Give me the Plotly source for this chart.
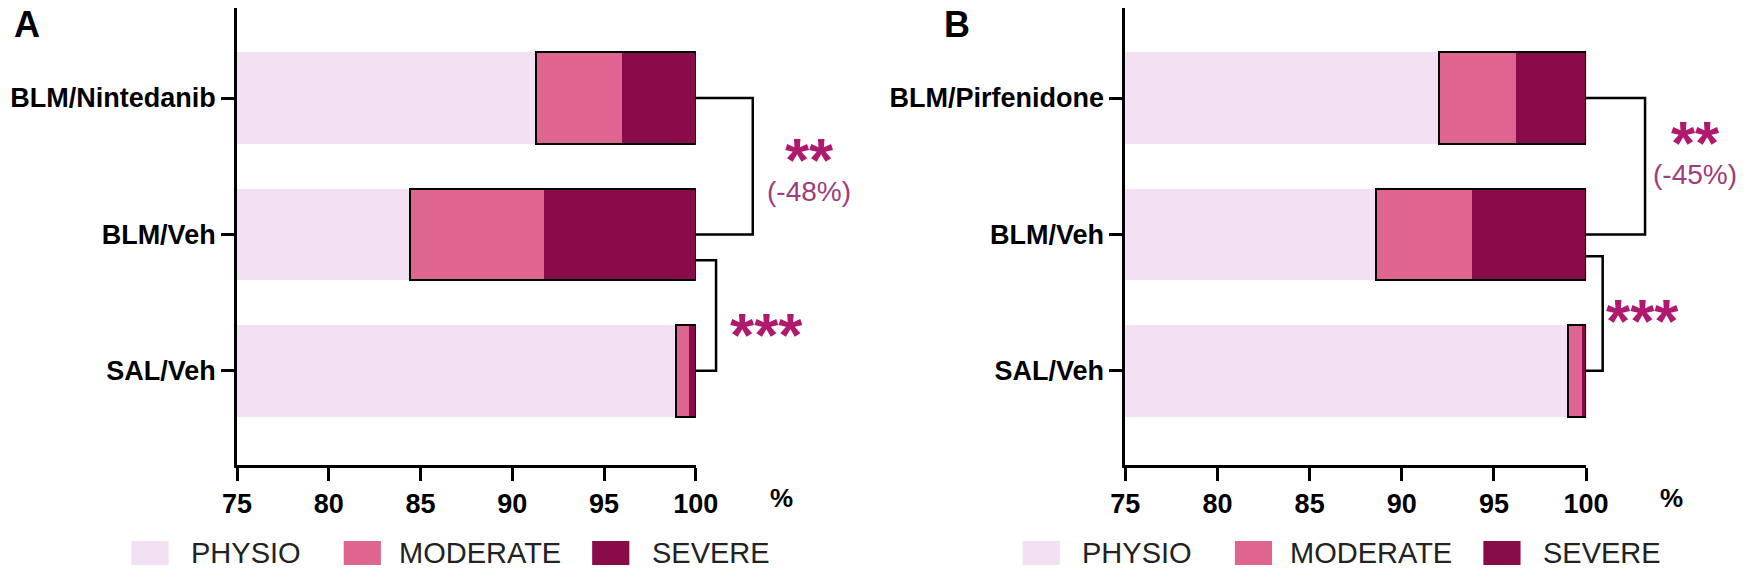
import plotly.graph_objects as go

W, H = 1748, 572

categories = ["SAL/Veh", "BLM/Veh", "BLM/Nintedanib"]
categories_b = ["SAL/Veh", "BLM/Veh", "BLM/Pirfenidone"]

# percent of lung area per score (panel A / panel B)
physio_a = [98.9, 84.4, 91.3]
moderate_a = [0.75, 7.3, 4.7]
severe_a = [0.35, 8.3, 4.0]

physio_b = [99.0, 88.6, 92.0]
moderate_b = [0.8, 5.2, 4.2]
severe_b = [0.2, 6.2, 3.8]

# brackets: (upper group, lower group, x of vertical line, offset of upper end)
brackets_a = [("BLM/Nintedanib", "BLM/Veh", 103.1, 0.0), ("BLM/Veh", "SAL/Veh", 101.1, -0.19)]
brackets_b = [("BLM/Pirfenidone", "BLM/Veh", 103.2, 0.0), ("BLM/Veh", "SAL/Veh", 100.9, -0.16)]

stars_a = ["**", "(-48%)", "***"]
stars_b = ["**", "(-45%)", "***"]

score_names = ["PHYSIO", "MODERATE", "SEVERE"]
colors = ["#F3E0F2", "#DD6590", "#880C4A"]
star_color = "#B01A6E"
pct_color = "#9E3C7E"

FONT = "Liberation Sans, Arial, sans-serif"
XMIN, XMAX, XEXT = 75, 100, 106
YR = [-0.69, 2.66]


def px(x):
    return x / W


def py(y):
    return 1 - y / H


fig = go.Figure()

panels = [
    dict(cats=categories, vals=[physio_a, moderate_a, severe_a], br=brackets_a, x0=227, x1=696, n=""),
    dict(cats=categories_b, vals=[physio_b, moderate_b, severe_b], br=brackets_b, x0=1135, x1=1606, n="2"),
]
y_dom = [py(465), py(8)]

for i, p in enumerate(panels):
    xa, ya = "x" + p["n"], "y" + p["n"]
    # stacked bars
    for name, vals, col in zip(score_names, p["vals"], colors):
        fig.add_trace(go.Bar(y=p["cats"], x=vals, orientation="h", name=name, marker=dict(color=col, line=dict(width=0)),
                             width=0.67, xaxis=xa, yaxis=ya, showlegend=False))
    # black box around moderate + severe
    lesion = [m + s for m, s in zip(p["vals"][1], p["vals"][2])]
    fig.add_trace(go.Bar(y=p["cats"], x=lesion, base=p["vals"][0], orientation="h", width=0.67,
                         marker=dict(color="rgba(0,0,0,0)", line=dict(color="black", width=2)),
                         xaxis=xa, yaxis=ya, showlegend=False))
    # brackets on a wider overlay subplot with the same scale
    bxa, bya = "x" + str(i + 3), "y" + str(i + 3)
    total = [a + b + c for a, b, c in zip(*p["vals"])]
    for top, bot, xv, off in p["br"]:
        it, ib = p["cats"].index(top), p["cats"].index(bot)
        yt, yb = it + off, ib
        fig.add_trace(go.Scatter(x=[total[it], xv, xv, total[ib]], y=[yt, yt, yb, yb], mode="lines",
                                 line=dict(color="black", width=2.5), xaxis=bxa, yaxis=bya,
                                 showlegend=False, hoverinfo="skip"))
    d0, d1 = px(p["x0"]), px(p["x1"])
    ax = dict(domain=[d0, d1], range=[XMIN, XMAX], tickvals=[75, 80, 85, 90, 95, 100], showline=True,
              linecolor="black", linewidth=3, ticks="outside", ticklen=13, tickwidth=2.5, tickcolor="black",
              showgrid=False, zeroline=False, tickfont=dict(family=FONT, size=27, color="black", weight="bold"),
              anchor=ya)
    ay = dict(domain=y_dom, type="category", categoryorder="array", categoryarray=p["cats"], range=YR,
              showline=True, linecolor="black", linewidth=3, ticks="outside", ticklen=13, tickwidth=2.5,
              tickcolor="black", showgrid=False, zeroline=False,
              tickfont=dict(family=FONT, size=27, color="black", weight="bold"), anchor=xa)
    fig.layout["xaxis" + p["n"]] = ax
    fig.layout["yaxis" + p["n"]] = ay
    fig.layout["xaxis" + str(i + 3)] = dict(domain=[d0, d0 + (d1 - d0) * (XEXT - XMIN) / (XMAX - XMIN)],
                                           range=[XMIN, XEXT], visible=False, anchor=bya)
    fig.layout["yaxis" + str(i + 3)] = dict(domain=y_dom, range=YR, visible=False, anchor=bxa)

annos = []
# panel letters
annos.append(dict(x=px(12), y=py(24), text="<b>A</b>", font=dict(size=36)))
annos.append(dict(x=px(963), y=py(24), text="<b>B</b>", font=dict(size=36)))
# % unit
annos.append(dict(x=px(784), y=py(498), text="<b>%</b>", font=dict(size=26)))
annos.append(dict(x=px(1693), y=py(498), text="<b>%</b>", font=dict(size=26)))
# significance: stars with the % change below, and the SAL vs BLM stars
for st, (xs, ys) in zip([stars_a, stars_b], [((812, 768), (166, 334)), ((1717, 1664), (149, 320))]):
    txt = ("<span style='font-size:62px;color:%s'><b>%s</b></span><br><span style='font-size:28px'>%s</span>"
           % (star_color, st[0], st[1]))
    annos.append(dict(x=px(xs[0]), y=py(ys[0]), text=txt, font=dict(size=15, color=pct_color)))
    annos.append(dict(x=px(xs[1]), y=py(ys[1]), text="<b>" + st[2] + "</b>", font=dict(size=62, color=star_color)))

# legends drawn under each panel
shapes = []
for shift in [0, 911]:
    for name, col, sq, tx in zip(score_names, colors, [119, 336, 590], [178, 390, 649]):
        shapes.append(dict(type="rect", xref="paper", yref="paper", x0=px(sq + shift), x1=px(sq + shift + 38),
                           y0=py(565), y1=py(541), fillcolor=col, line=dict(width=0)))
        annos.append(dict(x=px(tx + shift), y=py(553), text=name, xanchor="left", font=dict(size=29, color="#222")))

for a in annos:
    a.setdefault("xanchor", "center")
    a.update(xref="paper", yref="paper", showarrow=False, yanchor="middle")
    a["font"] = dict(family=FONT, color=a["font"].get("color", "black"), size=a["font"]["size"])

fig.update_layout(width=W, height=H, margin=dict(l=0, r=0, t=0, b=0), barmode="stack", bargap=0.33,
                  plot_bgcolor="rgba(0,0,0,0)", paper_bgcolor="white", annotations=annos, shapes=shapes,
                  font=dict(family=FONT, color="black"))
fig.write_html("out.html", config={"displayModeBar": False},
               post_script="document.body.style.margin='0';document.body.style.overflow='hidden';")
